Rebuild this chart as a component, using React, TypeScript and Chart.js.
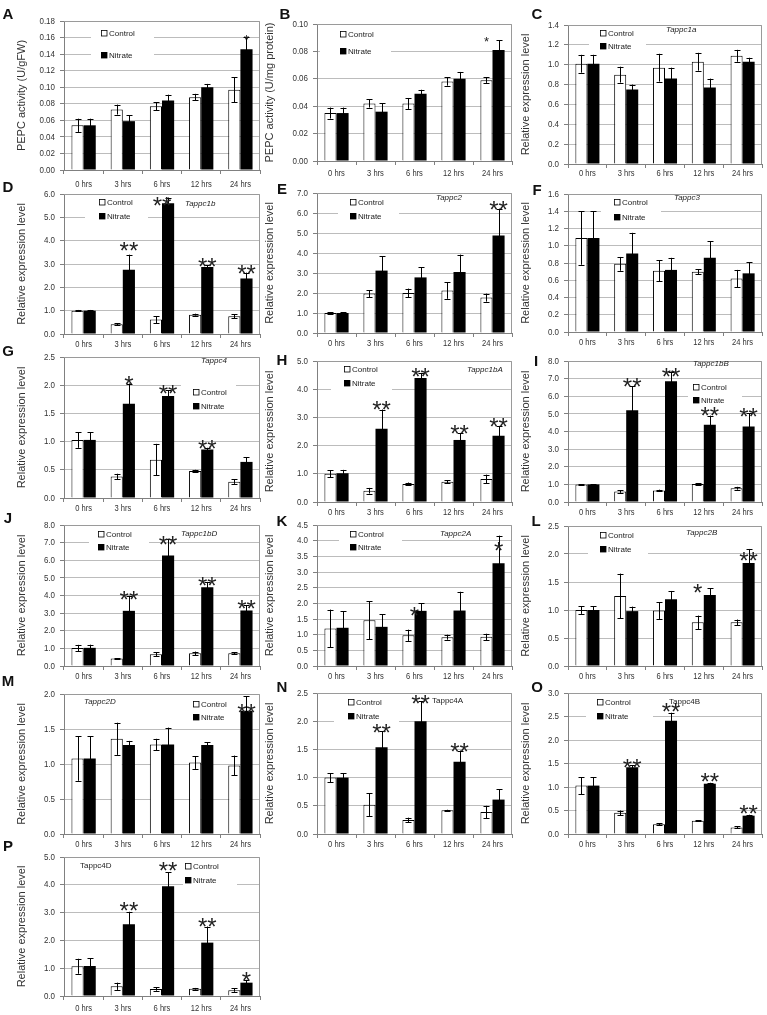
import React, { useEffect, useRef } from 'react';
import { Chart, registerables } from 'chart.js';
Chart.register(...registerables);

const SANS = "'Liberation Sans', Arial, sans-serif";

const hours = ['0 hrs', '3 hrs', '6 hrs', '12 hrs', '24 hrs'];
const REL = 'Relative expression level';

// ---- data ----
const aControl = [0.054, 0.073, 0.077, 0.088, 0.097];
const aControlErr = [0.008, 0.006, 0.005, 0.004, 0.015];
const aNitrate = [0.054, 0.059, 0.084, 0.100, 0.146];
const aNitrateErr = [0.008, 0.007, 0.007, 0.004, 0.015];
const aSig = ['', '', '', '', '*'];
const aSigY = [0, 0, 0, 0, 0.161];

const bControl = [0.035, 0.042, 0.042, 0.058, 0.059];
const bControlErr = [0.004, 0.003, 0.004, 0.003, 0.002];
const bNitrate = [0.035, 0.036, 0.049, 0.060, 0.081];
const bNitrateErr = [0.004, 0.006, 0.003, 0.005, 0.007];
const bSig = ['', '', '', '', '*'];
const bSigY = [0, 0, 0, 0, 0.089];

const cControl = [1.01, 0.90, 0.97, 1.03, 1.09];
const cControlErr = [0.09, 0.08, 0.14, 0.09, 0.06];
const cNitrate = [1.01, 0.75, 0.86, 0.77, 1.03];
const cNitrateErr = [0.09, 0.05, 0.11, 0.09, 0.04];
const cSig = ['', '', '', '', ''];
const cSigY = [0, 0, 0, 0, 0];

const dControl = [1.0, 0.42, 0.62, 0.83, 0.76];
const dControlErr = [0.03, 0.05, 0.15, 0.04, 0.08];
const dNitrate = [1.0, 2.75, 5.6, 2.87, 2.38];
const dNitrateErr = [0.03, 0.65, 0.25, 0.08, 0.25];
const dSig = ['', '**', '**', '**', '**'];
const dSigY = [0, 3.81, 5.74, 3.13, 2.83];

const eControl = [1.0, 1.97, 2.0, 2.13, 1.77];
const eControlErr = [0.05, 0.18, 0.22, 0.42, 0.2];
const eNitrate = [1.0, 3.12, 2.78, 3.05, 4.87];
const eNitrateErr = [0.05, 0.73, 0.5, 0.87, 1.35];
const eSig = ['', '', '', '', '**'];
const eSigY = [0, 0, 0, 0, 6.45];

const fControl = [1.09, 0.79, 0.71, 0.70, 0.62];
const fControlErr = [0.31, 0.08, 0.12, 0.03, 0.1];
const fNitrate = [1.09, 0.91, 0.72, 0.86, 0.68];
const fNitrateErr = [0.31, 0.24, 0.14, 0.19, 0.13];
const fSig = ['', '', '', '', ''];
const fSigY = [0, 0, 0, 0, 0];

const gControl = [1.03, 0.38, 0.68, 0.48, 0.29];
const gControlErr = [0.14, 0.05, 0.28, 0.02, 0.04];
const gNitrate = [1.03, 1.67, 1.81, 0.86, 0.64];
const gNitrateErr = [0.14, 0.36, 0.1, 0.03, 0.08];
const gSig = ['', '*', '**', '**', ''];
const gSigY = [0, 2.1, 1.95, 0.97, 0];

const hControl = [1.0, 0.4, 0.64, 0.72, 0.82];
const hControlErr = [0.12, 0.1, 0.05, 0.05, 0.15];
const hNitrate = [1.02, 2.6, 4.4, 2.2, 2.35];
const hNitrateErr = [0.12, 0.68, 0.18, 0.25, 0.35];
const hSig = ['', '**', '**', '**', '**'];
const hSigY = [0, 3.47, 4.65, 2.62, 2.87];

const iControl = [1.0, 0.6, 0.65, 1.02, 0.78];
const iControlErr = [0.02, 0.08, 0.05, 0.03, 0.08];
const iNitrate = [1.0, 5.2, 6.85, 4.38, 4.28];
const iNitrateErr = [0.02, 1.38, 0.55, 0.52, 0.75];
const iSig = ['', '**', '**', '**', '**'];
const iSigY = [0, 6.87, 7.43, 5.2, 5.16];

const jControl = [1.02, 0.42, 0.67, 0.72, 0.73];
const jControlErr = [0.18, 0.02, 0.1, 0.1, 0.06];
const jNitrate = [1.03, 3.13, 6.27, 4.47, 3.15];
const jNitrateErr = [0.18, 0.85, 0.95, 0.3, 0.3];
const jSig = ['', '**', '**', '**', '**'];
const jSigY = [0, 4.09, 7.2, 4.88, 3.57];

const kControl = [1.2, 1.46, 0.98, 0.92, 0.93];
const kControlErr = [0.6, 0.6, 0.18, 0.08, 0.1];
const kNitrate = [1.22, 1.25, 1.76, 1.77, 3.28];
const kNitrateErr = [0.53, 0.4, 0.25, 0.6, 0.88];
const kSig = ['', '', '*', '', '*'];
const kSigY = [0, 0, 1.79, 0, 3.86];

const lControl = [1.0, 1.25, 0.99, 0.78, 0.78];
const lControlErr = [0.07, 0.4, 0.15, 0.12, 0.05];
const lNitrate = [1.0, 0.98, 1.19, 1.27, 1.84];
const lNitrateErr = [0.07, 0.08, 0.15, 0.12, 0.25];
const lSig = ['', '', '', '*', '**'];
const lSigY = [0, 0, 0, 1.41, 1.98];

const mControl = [1.08, 1.36, 1.28, 1.02, 0.98];
const mControlErr = [0.32, 0.23, 0.08, 0.09, 0.14];
const mNitrate = [1.08, 1.27, 1.28, 1.27, 1.76];
const mNitrateErr = [0.32, 0.06, 0.24, 0.04, 0.21];
const mSig = ['', '', '', '', '**'];
const mSigY = [0, 0, 0, 0, 1.81];

const nControl = [1.0, 0.52, 0.25, 0.42, 0.39];
const nControlErr = [0.08, 0.2, 0.04, 0.01, 0.11];
const nNitrate = [1.0, 1.54, 2.0, 1.28, 0.61];
const nNitrateErr = [0.08, 0.28, 0.35, 0.2, 0.18];
const nSig = ['', '**', '**', '**', ''];
const nSigY = [0, 1.9, 2.41, 1.56, 0];

const oControl = [1.03, 0.45, 0.21, 0.28, 0.14];
const oControlErr = [0.18, 0.05, 0.02, 0.01, 0.02];
const oNitrate = [1.03, 1.42, 2.41, 1.07, 0.39];
const oNitrateErr = [0.18, 0.04, 0.17, 0.02, 0.02];
const oSig = ['', '**', '**', '**', '**'];
const oSigY = [0, 1.53, 2.72, 1.22, 0.55];

const pControl = [1.07, 0.35, 0.25, 0.26, 0.21];
const pControlErr = [0.27, 0.13, 0.06, 0.03, 0.06];
const pNitrate = [1.08, 2.58, 3.95, 1.92, 0.48];
const pNitrateErr = [0.27, 0.45, 0.5, 0.58, 0.1];
const pSig = ['', '**', '**', '**', '*'];
const pSigY = [0, 3.27, 4.71, 2.7, 0.76];

// ---- layout ----
type Panel = {
  letter: string; lx: number; ly: number;
  L: number; T: number; R: number; B: number;
  yMax: number; yStep: number; dec: number; yTitle: string; titleOff: number; xOff?: number;
  control: number[]; controlErr: number[]; nitrate: number[]; nitrateErr: number[];
  sig: string[]; sigY: number[]; sigAt?: string[]; starSize: number;
  gene?: string; geneItalic?: boolean; gx?: number; gy?: number;
  legX: number; legY1: number; legY2: number; box: number[];
};

const N5 = ['n', 'n', 'n', 'n', 'n'];

const panels: Panel[] = [
  { letter: 'A', lx: 8, ly: 13, L: 64, T: 21, R: 260, B: 170, yMax: 0.18, yStep: 0.02, dec: 2, yTitle: 'PEPC activity (U/gFW)', titleOff: 42, xOff: 15,
    control: aControl, controlErr: aControlErr, nitrate: aNitrate, nitrateErr: aNitrateErr, sig: aSig, sigY: aSigY, starSize: 13,
    legX: 104, legY1: 33, legY2: 55, box: [91, 27, 154, 61] },
  { letter: 'B', lx: 285, ly: 13, L: 317, T: 24, R: 512, B: 161, yMax: 0.10, yStep: 0.02, dec: 2, yTitle: 'PEPC activity (U/mg protein)', titleOff: 47, xOff: 13,
    control: bControl, controlErr: bControlErr, nitrate: bNitrate, nitrateErr: bNitrateErr, sig: bSig, sigY: bSigY, sigAt: ['n', 'n', 'n', 'n', 'c'], starSize: 13,
    legX: 343, legY1: 34, legY2: 51, box: [320, 28, 391, 57] },
  { letter: 'C', lx: 537, ly: 13, L: 568, T: 25, R: 762, B: 164, yMax: 1.4, yStep: 0.2, dec: 1, yTitle: REL, titleOff: 42, xOff: 10,
    control: cControl, controlErr: cControlErr, nitrate: cNitrate, nitrateErr: cNitrateErr, sig: cSig, sigY: cSigY, starSize: 24,
    gene: 'Tappc1a', geneItalic: true, gx: 666, gy: 30,
    legX: 603, legY1: 33, legY2: 46, box: [589, 28, 646, 52] },
  { letter: 'D', lx: 8, ly: 186, L: 64, T: 194, R: 260, B: 334, yMax: 6, yStep: 1, dec: 1, yTitle: REL, titleOff: 42,
    control: dControl, controlErr: dControlErr, nitrate: dNitrate, nitrateErr: dNitrateErr, sig: dSig, sigY: dSigY, sigAt: ['n', 'n', 'm', 'n', 'n'], starSize: 24,
    gene: 'Tappc1b', geneItalic: true, gx: 185, gy: 204,
    legX: 102, legY1: 202, legY2: 216, box: [85, 196, 148, 222] },
  { letter: 'E', lx: 282, ly: 188, L: 317, T: 193, R: 512, B: 333, yMax: 7, yStep: 1, dec: 1, yTitle: REL, titleOff: 47,
    control: eControl, controlErr: eControlErr, nitrate: eNitrate, nitrateErr: eNitrateErr, sig: eSig, sigY: eSigY, starSize: 24,
    gene: 'Tappc2', geneItalic: true, gx: 436, gy: 198,
    legX: 353, legY1: 202, legY2: 216, box: [338, 196, 399, 221] },
  { letter: 'F', lx: 537, ly: 189, L: 568, T: 194, R: 762, B: 332, yMax: 1.6, yStep: 0.2, dec: 1, yTitle: REL, titleOff: 42,
    control: fControl, controlErr: fControlErr, nitrate: fNitrate, nitrateErr: fNitrateErr, sig: fSig, sigY: fSigY, starSize: 24,
    gene: 'Tappc3', geneItalic: true, gx: 674, gy: 198,
    legX: 617, legY1: 202, legY2: 217, box: [601, 196, 661, 223] },
  { letter: 'G', lx: 8, ly: 350, L: 64, T: 357, R: 260, B: 498, yMax: 2.5, yStep: 0.5, dec: 1, yTitle: REL, titleOff: 42,
    control: gControl, controlErr: gControlErr, nitrate: gNitrate, nitrateErr: gNitrateErr, sig: gSig, sigY: gSigY, starSize: 24,
    gene: 'Tappc4', geneItalic: true, gx: 201, gy: 361,
    legX: 196, legY1: 392, legY2: 406, box: [181, 381, 236, 412] },
  { letter: 'H', lx: 282, ly: 359, L: 317, T: 361, R: 512, B: 502, yMax: 5, yStep: 1, dec: 1, yTitle: REL, titleOff: 47,
    control: hControl, controlErr: hControlErr, nitrate: hNitrate, nitrateErr: hNitrateErr, sig: hSig, sigY: hSigY, starSize: 24,
    gene: 'Tappc1bA', geneItalic: true, gx: 467, gy: 370,
    legX: 347, legY1: 369, legY2: 383, box: [331, 363, 392, 393] },
  { letter: 'I', lx: 536, ly: 360, L: 568, T: 361, R: 762, B: 502, yMax: 8, yStep: 1, dec: 1, yTitle: REL, titleOff: 42,
    control: iControl, controlErr: iControlErr, nitrate: iNitrate, nitrateErr: iNitrateErr, sig: iSig, sigY: iSigY, starSize: 24,
    gene: 'Tappc1bB', geneItalic: true, gx: 693, gy: 364,
    legX: 696, legY1: 387, legY2: 400, box: [688, 381, 742, 406] },
  { letter: 'J', lx: 8, ly: 517, L: 64, T: 525, R: 260, B: 666, yMax: 8, yStep: 1, dec: 1, yTitle: REL, titleOff: 42,
    control: jControl, controlErr: jControlErr, nitrate: jNitrate, nitrateErr: jNitrateErr, sig: jSig, sigY: jSigY, starSize: 24,
    gene: 'Tappc1bD', geneItalic: true, gx: 181, gy: 534,
    legX: 101, legY1: 534, legY2: 547, box: [89, 528, 149, 553] },
  { letter: 'K', lx: 282, ly: 520, L: 317, T: 525, R: 512, B: 666, yMax: 4.5, yStep: 0.5, dec: 1, yTitle: REL, titleOff: 47,
    control: kControl, controlErr: kControlErr, nitrate: kNitrate, nitrateErr: kNitrateErr, sig: kSig, sigY: kSigY, sigAt: ['n', 'n', 'm', 'n', 'n'], starSize: 24,
    gene: 'Tappc2A', geneItalic: true, gx: 440, gy: 534,
    legX: 353, legY1: 534, legY2: 547, box: [339, 528, 402, 553] },
  { letter: 'L', lx: 536, ly: 520, L: 568, T: 526, R: 762, B: 666, yMax: 2.5, yStep: 0.5, dec: 1, yTitle: REL, titleOff: 42,
    control: lControl, controlErr: lControlErr, nitrate: lNitrate, nitrateErr: lNitrateErr, sig: lSig, sigY: lSigY, sigAt: ['n', 'n', 'n', 'c', 'n'], starSize: 24,
    gene: 'Tappc2B', geneItalic: true, gx: 686, gy: 533,
    legX: 603, legY1: 535, legY2: 549, box: [588, 529, 648, 556] },
  { letter: 'M', lx: 8, ly: 680, L: 64, T: 694, R: 260, B: 834, yMax: 2, yStep: 0.5, dec: 1, yTitle: REL, titleOff: 42,
    control: mControl, controlErr: mControlErr, nitrate: mNitrate, nitrateErr: mNitrateErr, sig: mSig, sigY: mSigY, starSize: 24,
    gene: 'Tappc2D', geneItalic: true, gx: 84, gy: 702,
    legX: 196, legY1: 704, legY2: 717, box: [185, 698, 235, 724] },
  { letter: 'N', lx: 282, ly: 686, L: 317, T: 693, R: 512, B: 834, yMax: 2.5, yStep: 0.5, dec: 1, yTitle: REL, titleOff: 47,
    control: nControl, controlErr: nControlErr, nitrate: nNitrate, nitrateErr: nNitrateErr, sig: nSig, sigY: nSigY, starSize: 24,
    gene: 'Tappc4A', geneItalic: false, gx: 432, gy: 701,
    legX: 351, legY1: 702, legY2: 716, box: [334, 696, 399, 724] },
  { letter: 'O', lx: 537, ly: 686, L: 568, T: 693, R: 762, B: 834, yMax: 3, yStep: 0.5, dec: 1, yTitle: REL, titleOff: 42,
    control: oControl, controlErr: oControlErr, nitrate: oNitrate, nitrateErr: oNitrateErr, sig: oSig, sigY: oSigY, starSize: 24,
    gene: 'Tappc4B', geneItalic: false, gx: 669, gy: 702,
    legX: 600, legY1: 702, legY2: 716, box: [586, 696, 653, 722] },
  { letter: 'P', lx: 8, ly: 845, L: 64, T: 857, R: 260, B: 996, yMax: 5, yStep: 1, dec: 1, yTitle: REL, titleOff: 42, xOff: 13,
    control: pControl, controlErr: pControlErr, nitrate: pNitrate, nitrateErr: pNitrateErr, sig: pSig, sigY: pSigY, starSize: 24,
    gene: 'Tappc4D', geneItalic: false, gx: 80, gy: 866,
    legX: 188, legY1: 866, legY2: 880, box: [183, 860, 237, 888] },
];

const PAD_L = 60;
const PAD_T = 12;
const PAD_R = 6;
const X_H = 22;
const NARROW_SCALE = 0.84;

function drawNarrow(ctx: any, text: string, x: number, y: number, align: string) {
  ctx.save();
  ctx.translate(x, y);
  ctx.scale(NARROW_SCALE, 1);
  ctx.textAlign = align;
  ctx.fillText(text, 0, 0);
  ctx.restore();
}

function PanelChart({ p }: { p: Panel }) {
  const ref = useRef<HTMLCanvasElement>(null);
  const ox = p.L - PAD_L;
  const oy = p.T - PAD_T;
  const w = p.R - p.L + PAD_L + PAD_R;
  const h = p.B - p.T + PAD_T + X_H;

  useEffect(() => {
    const canvas = ref.current!;
    const custom = {
      id: 'custom',
      beforeDatasetsDraw(chart: any) {
        const ctx = chart.ctx;
        ctx.save();
        ctx.fillStyle = '#ffffff';
        const [x0, y0, x1, y1] = p.box;
        ctx.fillRect(x0 - ox, y0 - oy, x1 - x0, y1 - y0);
        ctx.restore();
      },
      afterDatasetsDraw(chart: any) {
        const ctx = chart.ctx;
        const ys = chart.scales.y;
        const xs = chart.scales.x;
        const area = chart.chartArea;
        ctx.save();
        // plot border (top/right)
        ctx.strokeStyle = '#9a9a9a';
        ctx.lineWidth = 1;
        ctx.beginPath();
        ctx.moveTo(area.left, Math.round(area.top) + 0.5);
        ctx.lineTo(Math.round(area.right) - 0.5, Math.round(area.top) + 0.5);
        ctx.lineTo(Math.round(area.right) - 0.5, area.bottom);
        ctx.stroke();
        // tick labels (condensed)
        ctx.fillStyle = '#333';
        ctx.textBaseline = 'middle';
        ctx.font = `9.5px ${SANS}`;
        ys.ticks.forEach((t: any) => {
          drawNarrow(ctx, Number(t.value).toFixed(p.dec), area.left - 9, ys.getPixelForValue(t.value), 'right');
        });
        ctx.font = `9px ${SANS}`;
        hours.forEach((lab, i) => {
          drawNarrow(ctx, lab, xs.getPixelForTick(i), area.bottom + (p.xOff || 11), 'center');
        });
        // error bars
        const errs = [p.controlErr, p.nitrateErr];
        const vals = [p.control, p.nitrate];
        ctx.strokeStyle = '#000';
        ctx.lineWidth = 1;
        for (let d = 0; d < 2; d++) {
          const meta = chart.getDatasetMeta(d);
          meta.data.forEach((bar: any, j: number) => {
            const x = Math.round(bar.x) + 0.5;
            const yt = ys.getPixelForValue(vals[d][j] + errs[d][j]);
            const yb = ys.getPixelForValue(Math.max(0, vals[d][j] - errs[d][j]));
            ctx.beginPath();
            ctx.moveTo(x, yt);
            ctx.lineTo(x, yb);
            ctx.moveTo(x - 3, Math.round(yt) + 0.5);
            ctx.lineTo(x + 3, Math.round(yt) + 0.5);
            ctx.moveTo(x - 3, Math.round(yb) + 0.5);
            ctx.lineTo(x + 3, Math.round(yb) + 0.5);
            ctx.stroke();
          });
        }
        // stars
        const mc = chart.getDatasetMeta(0).data;
        const mn = chart.getDatasetMeta(1).data;
        ctx.fillStyle = '#222';
        ctx.textAlign = 'center';
        ctx.textBaseline = 'alphabetic';
        ctx.font = `${p.starSize}px ${SANS}`;
        p.sig.forEach((s, j) => {
          if (!s) return;
          const at = (p.sigAt || N5)[j];
          let x = mn[j].x;
          if (at === 'c') x = mc[j].x;
          if (at === 'm') x = (mc[j].x + mn[j].x) / 2;
          const yc = ys.getPixelForValue(p.sigY[j]);
          ctx.fillText(s, x, yc + 0.57 * p.starSize);
        });
        // legend
        ctx.textAlign = 'left';
        ctx.textBaseline = 'middle';
        ctx.font = `8px ${SANS}`;
        const items: [string, string, number][] = [['Control', '#fff', p.legY1], ['Nitrate', '#000', p.legY2]];
        items.forEach(([label, fill, yy]) => {
          const mx = p.legX - ox;
          const my = yy - oy;
          ctx.fillStyle = fill;
          ctx.fillRect(mx - 3, my - 3, 6, 6);
          ctx.strokeStyle = '#000';
          ctx.lineWidth = 0.8;
          ctx.strokeRect(mx - 2.5, my - 2.5, 5.5, 5.5);
          ctx.fillStyle = '#222';
          ctx.fillText(label, mx + 5, my + 0.5);
        });
        // gene label
        if (p.gene) {
          ctx.font = `${p.geneItalic ? 'italic ' : ''}8px ${SANS}`;
          ctx.fillStyle = '#222';
          ctx.fillText(p.gene, (p.gx as number) - ox, (p.gy as number) - oy);
        }
        // y title
        ctx.translate(PAD_L - p.titleOff, (area.top + area.bottom) / 2);
        ctx.rotate(-Math.PI / 2);
        ctx.textAlign = 'center';
        ctx.textBaseline = 'middle';
        ctx.font = `11px ${SANS}`;
        ctx.fillStyle = '#333';
        ctx.fillText(p.yTitle, 0, 0);
        ctx.restore();
      },
    };
    const chart = new Chart(canvas, {
      type: 'bar',
      data: {
        labels: hours,
        datasets: [
          { label: 'Control', data: p.control, backgroundColor: '#ffffff', borderColor: '#000000', borderWidth: 1, categoryPercentage: 0.62, barPercentage: 1 },
          { label: 'Nitrate', data: p.nitrate, backgroundColor: '#000000', borderColor: '#000000', borderWidth: 0, categoryPercentage: 0.62, barPercentage: 1 },
        ],
      },
      options: {
        animation: false,
        responsive: false,
        devicePixelRatio: 1,
        layout: { padding: { top: PAD_T, right: PAD_R, left: 0, bottom: 0 } },
        plugins: { legend: { display: false }, tooltip: { enabled: false }, title: { display: false } },
        scales: {
          x: {
            offset: true,
            grid: { display: true, drawOnChartArea: false, drawTicks: true, tickLength: 4, color: '#808080', tickColor: '#808080', offset: true },
            border: { display: true, color: '#808080', width: 1 },
            ticks: { font: { size: 8, family: SANS }, color: 'rgba(0,0,0,0)', padding: 3, maxRotation: 0, autoSkip: false },
            afterFit: (s: any) => { s.height = X_H; },
          },
          y: {
            min: 0,
            max: p.yMax,
            ticks: { stepSize: p.yStep, font: { size: 8, family: SANS }, color: 'rgba(0,0,0,0)', padding: 4,
              callback: (v: any) => Number(v).toFixed(p.dec) },
            grid: { color: '#bcbcbc', tickColor: '#808080', tickLength: 4, drawTicks: true, lineWidth: 1 },
            border: { display: true, color: '#808080', width: 1 },
            afterFit: (s: any) => { s.width = PAD_L; },
          },
        },
      },
      plugins: [custom],
    } as any);
    return () => chart.destroy();
  }, []);

  return (
    <canvas
      ref={ref}
      width={w}
      height={h}
      style={{ position: 'absolute', left: ox, top: oy, width: w, height: h }}
    />
  );
}

export default function App() {
  return (
    <div style={{ position: 'absolute', left: 0, top: 0, width: 767, height: 1015, background: '#fff', overflow: 'hidden' }}>
      {panels.map((p) => (
        <PanelChart key={p.letter} p={p} />
      ))}
      {panels.map((p) => (
        <div
          key={'l' + p.letter}
          style={{
            position: 'absolute', left: p.lx, top: p.ly, transform: 'translate(-50%, -50%)',
            font: `bold 15px ${SANS}`, lineHeight: '15px', color: '#111',
          }}
        >
          {p.letter}
        </div>
      ))}
    </div>
  );
}
